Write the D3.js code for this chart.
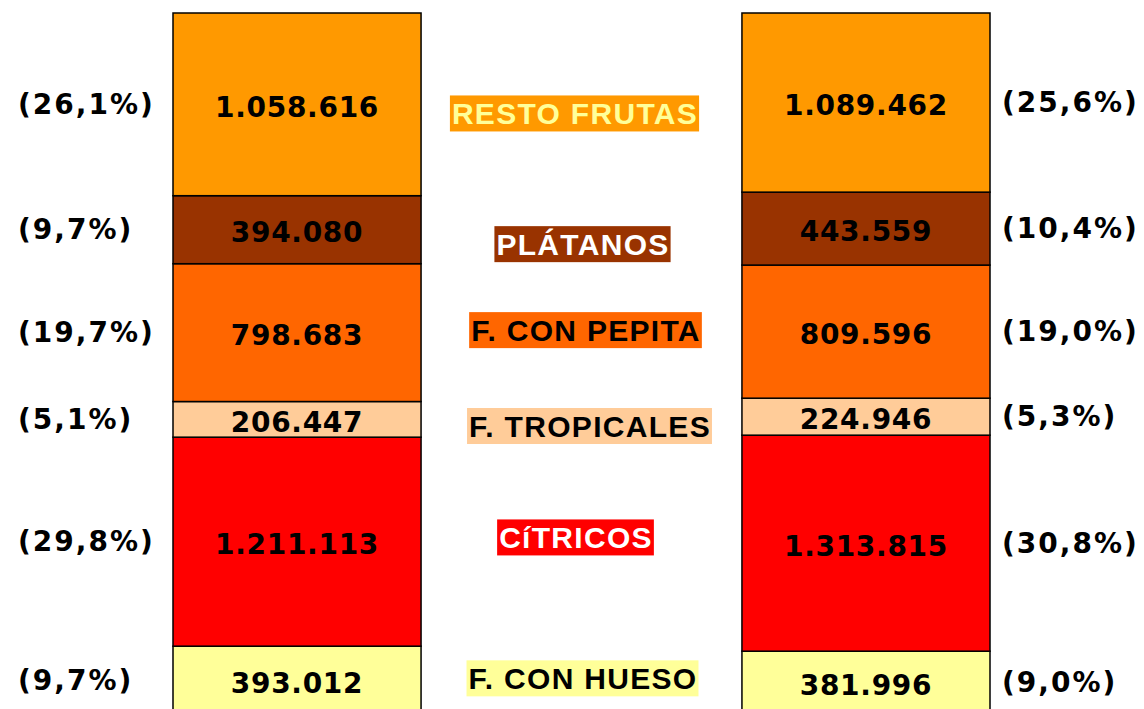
<!DOCTYPE html>
<meta charset="utf-8">
<script src="https://d3js.org/d3.v7.min.js"></script>
<style>
  body { margin: 0; background: #fff; }
</style>
<div id="my_dataviz"></div>
<script>
    // data, bottom segment first
    var categories = ["F. CON HUESO", "CíTRICOS", "F. TROPICALES", "F. CON PEPITA", "PLÁTANOS", "RESTO FRUTAS"];
    var groups = ["izquierda", "derecha"];
    var valuesLeft  = [393012, 1211113, 206447, 798683, 394080, 1058616];
    var valuesRight = [381996, 1313815, 224946, 809596, 443559, 1089462];

    // styles
    var fills     = ["#FFFF99", "#FF0000", "#FFCC99", "#FF6600", "#993300", "#FF9900"];
    var labelInk  = ["#000000", "#FFFFFF", "#000000", "#000000", "#FFFFFF", "#FFFF99"];
    // small shifts for the middle labels [dx, dy]
    var labelNudge = [[3, -3], [-4, -5], [10, 8], [6, -2], [3, 15], [-5, 10]];

    var width = 1144, height = 709;

    var svg = d3.select("#my_dataviz")
      .append("svg")
        .attr("width", width)
        .attr("height", height);

    var es = d3.formatLocale({decimal: ",", thousands: ".", grouping: [3], currency: ["", " €"]});
    var fmtNum = es.format(",d");
    var fmtPct = es.format(".1f");

    // stack as shares of each bar's total
    var series = [valuesLeft, valuesRight].map(function(vals, gi) {
        var total = d3.sum(vals), acc = 0;
        return vals.map(function(v, i) {
            var s = {group: groups[gi], i: i, value: v, y0: acc / total, y1: (acc + v) / total, pct: v / total * 100};
            acc += v;
            return s;
        });
    });

    var x = d3.scaleBand()
      .domain(groups)
      .range([173, 990])
      .paddingInner(0.564);

    var y = d3.scaleLinear()
      .domain([0, 1])
      .range([714, 13]);

    var g = svg.selectAll(".bar")
      .data(series)
      .enter().append("g");

    g.selectAll("rect")
      .data(function(d) { return d; })
      .enter().append("rect")
        .attr("x", function(d) { return x(d.group); })
        .attr("y", function(d) { return y(d.y1); })
        .attr("width", x.bandwidth())
        .attr("height", function(d) { return y(d.y0) - y(d.y1); })
        .attr("fill", function(d) { return fills[d.i]; })
        .attr("stroke", "#000")
        .attr("stroke-width", 1.5);

    // values inside bars
    g.selectAll(".val")
      .data(function(d) { return d; })
      .enter().append("text")
        .attr("class", "val")
        .attr("x", function(d) { return x(d.group) + x.bandwidth() / 2; })
        .attr("y", function(d) { return (y(d.y0) + y(d.y1)) / 2 + 3; })
        .attr("text-anchor", "middle")
        .attr("dominant-baseline", "central")
        .style("font-family", "'DejaVu Sans', Verdana, sans-serif")
        .style("font-weight", "bold")
        .style("font-size", "28px")
        .style("letter-spacing", "0.7px")
        .text(function(d) { return fmtNum(d.value); });

    // percentages outside bars
    g.selectAll(".pct")
      .data(function(d) { return d; })
      .enter().append("text")
        .attr("class", "pct")
        .attr("x", function(d) { return d.group === groups[0] ? 18 : 1002; })
        .attr("y", function(d) { return (y(d.y0) + y(d.y1)) / 2; })
        .attr("dominant-baseline", "central")
        .style("font-family", "'DejaVu Sans', Verdana, sans-serif")
        .style("font-weight", "bold")
        .style("font-size", "28px")
        .style("letter-spacing", "2px")
        .text(function(d) { return "(" + fmtPct(d.pct) + "%)"; });

    // category labels in the middle
    var mid = svg.append("g");
    categories.forEach(function(c, i) {
        var cy = (y((series[0][i].y0 + series[0][i].y1) / 2) + y((series[1][i].y0 + series[1][i].y1) / 2)) / 2 + labelNudge[i][1];
        var cx = 580 + labelNudge[i][0];
        var lg = mid.append("g");
        var bg = lg.append("rect").attr("fill", fills[i]);
        var t = lg.append("text")
          .attr("x", cx)
          .attr("y", cy)
          .attr("text-anchor", "middle")
          .attr("dominant-baseline", "central")
          .style("font-family", "'Liberation Sans', Arial, sans-serif")
          .style("font-weight", "bold")
          .style("font-size", "30px")
          .style("letter-spacing", "1.3px")
          .attr("fill", labelInk[i])
          .text(c);
        var bb = t.node().getBBox();
        bg.attr("x", bb.x - 2).attr("y", cy - 18).attr("width", bb.width + 3).attr("height", 36);
    });
</script>
